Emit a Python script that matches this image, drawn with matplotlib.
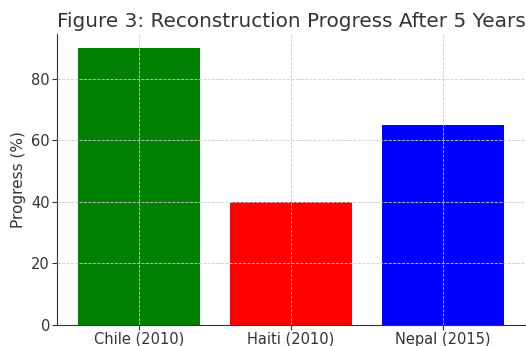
import matplotlib
matplotlib.use("Agg")
import matplotlib.pyplot as plt

# data
regions = ["Chile (2010)", "Haiti (2010)", "Nepal (2015)"]
progress = [90, 40, 65]
colors = ["green", "red", "blue"]

fig = plt.figure(figsize=(5.26, 3.46), dpi=100)
ax = fig.add_axes([0.1084, 0.0607, 0.89, 0.841])

ax.bar(regions, progress, color=colors, width=0.8)
ax.set_title("Figure 3: Reconstruction Progress After 5 Years", fontsize=14.4, color="#333333", pad=5)
ax.set_ylabel("Progress (%)", fontsize=11, color="#333333", labelpad=4)
ax.tick_params(labelsize=10.5, colors="#333333", pad=1.5)
ax.set_yticks([0, 20, 40, 60, 80])

ax.grid(True, linestyle="--", color="#cccccc", linewidth=0.6)
ax.set_axisbelow(False)
for s in ["top", "right"]:
    ax.spines[s].set_visible(False)
for s in ["left", "bottom"]:
    ax.spines[s].set_color("#333333")

fig.savefig("out.png", dpi=100)
